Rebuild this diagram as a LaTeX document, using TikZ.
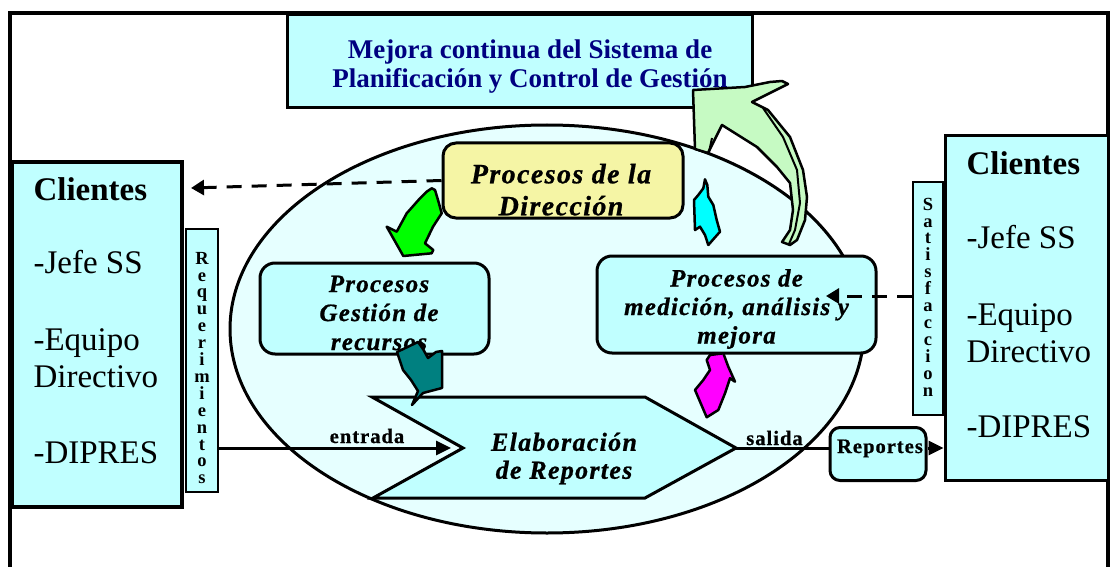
\documentclass[tikz,border=0pt]{standalone}
\usepackage{fontspec}
\setmainfont{Liberation Serif}
\newfontfamily\spacedfont[LetterSpace=5,FakeBold=0.8]{Liberation Serif}
\usetikzlibrary{arrows.meta}
\definecolor{boxcyan}{RGB}{192,255,255}
\definecolor{ellcyan}{RGB}{230,255,255}
\definecolor{dirYellow}{RGB}{245,245,165}
\definecolor{titleBlue}{RGB}{0,0,128}
\definecolor{arrGreen}{RGB}{0,255,0}
\definecolor{arrTeal}{RGB}{0,128,128}
\definecolor{arrCyan}{RGB}{0,255,255}
\definecolor{arrMagenta}{RGB}{255,0,255}
\definecolor{arrLight}{RGB}{198,250,195}
\tikzset{
  box/.style={draw, line width=3pt, fill=boxcyan, inner sep=0pt},
  rbox/.style={box, rounded corners=13pt},
  stripbox/.style={box, line width=2.5pt},
  proctext/.style={align=center, font=\spacedfont\bfseries\itshape},
  clitext/.style={anchor=base west, font=\fontsize{33}{36}\selectfont},
  lettertext/.style={align=center, inner sep=0pt, font=\bfseries\fontsize{18.5}{16.9}\selectfont},
  smalltext/.style={anchor=base, inner sep=0pt, font=\spacedfont\bfseries\fontsize{20.5}{22}\selectfont},
  dasharrow/.style={line width=3pt, dash pattern=on 15pt off 10pt,
    -{Triangle[length=13pt,width=15pt]}},
  flowarrow/.style={line width=3pt, -{Triangle[length=15pt,width=14pt]}},
  blockarrow/.style={draw, line width=2.5pt, line join=round}
}
\begin{document}
\begin{tikzpicture}[x=1pt,y=-1pt]
  \useasboundingbox (0,0) rectangle (1111,567);
  % marco
  \draw[line width=4pt] (10,567)--(10,13)--(1108,13)--(1108,567);
  % titulo
  \node[box, minimum width=465pt, minimum height=93pt] (titulo) at (519.5,61.5) {};
  \node[align=center, text=titleBlue, font=\bfseries\fontsize{27}{29}\selectfont]
    (titext) at (530,66.3) {Mejora continua del Sistema de\\Planificación y Control de Gestión};
  % ovalo de procesos
  \draw[line width=3pt, fill=ellcyan] (547,329) ellipse [x radius=317, y radius=204];

  % clientes izquierda
  \node[box, line width=4pt, minimum width=170pt, minimum height=345pt] (cliL) at (97,334.5) {};
  \node[clitext] (cliL1) at (30,200) {\bfseries Clientes};
  \node[clitext] (cliL2) at (30,273) {-Jefe SS};
  \node[clitext] (cliL3) at (30,350) {-Equipo};
  \node[clitext] (cliL4) at (30,387) {Directivo};
  \node[clitext] (cliL5) at (30,463) {-DIPRES};
  \node[stripbox, minimum width=32pt, minimum height=263pt] (req) at (202,360.5) {};
  \node[lettertext] (reqtext) at (202,368) {R\\e\\q\\u\\e\\r\\i\\m\\i\\e\\n\\t\\o\\s};

  % clientes derecha
  \node[box, minimum width=163pt, minimum height=344pt] (cliR) at (1026.5,308) {};
  \node[clitext] (cliR1) at (963,175) {\bfseries Clientes};
  \node[clitext] (cliR2) at (963,248) {-Jefe SS};
  \node[clitext] (cliR3) at (963,325) {-Equipo};
  \node[clitext] (cliR4) at (963,362) {Directivo};
  \node[clitext] (cliR5) at (963,437) {-DIPRES};
  \node[stripbox, minimum width=30pt, minimum height=233pt] (sat) at (928,298.5) {};
  \node[lettertext] (sattext) at (928,297) {S\\a\\t\\i\\s\\f\\a\\c\\c\\i\\o\\n};

  % procesos
  \node[rbox, fill=dirYellow, minimum width=240pt, minimum height=75pt] (dir) at (563,180.5) {};
  \node[proctext, font=\spacedfont\bfseries\itshape\fontsize{28}{32}\selectfont]
    (dirtext) at (561,189.7) {Procesos de la\\Dirección};
  \node[rbox, rounded corners=15pt, minimum width=229pt, minimum height=91pt] (gest) at (374.5,308.5) {};
  \node[proctext, font=\spacedfont\bfseries\itshape\fontsize{25}{29}\selectfont]
    (gesttext) at (379,313) {Procesos\\Gestión de\\recursos};
  \node[rbox, rounded corners=15pt, minimum width=279pt, minimum height=97pt] (med) at (736.5,304.5) {};
  \node[proctext, font=\spacedfont\bfseries\itshape\fontsize{25}{28.5}\selectfont]
    (medtext) at (736.5,309) {Procesos de\\medición, análisis y\\mejora};

  % elaboracion de reportes
  \coordinate (notch) at (463,448);
  \coordinate (tip) at (736,448);
  \draw[line width=3pt, fill=boxcyan] (372,397) -- (645,397) -- (tip)
    -- (645,498) -- (373,498) -- (notch) -- cycle;
  \node[proctext, font=\spacedfont\bfseries\itshape\fontsize{26}{28}\selectfont]
    (elab) at (564,458.5) {Elaboración\\de Reportes};
  \node[rbox, rounded corners=10pt, minimum width=96pt, minimum height=53pt] (rep) at (878,454) {};
  \node[smalltext] (reptext) at (880,453) {Reportes};

  % flechas de bloque
  \draw[blockarrow, fill=arrGreen] (431.7,188.3) -- (435,190) -- (438,200) -- (441.7,213.3)
    -- (433,226.7) -- (425,243.3) -- (433.3,250) -- (431.7,253.3) -- (403.3,256)
    -- (386.7,226.7) -- (396.7,231.7) -- (406.7,213.3) -- (420,198.3) -- (426.7,191.7) -- cycle;
  \draw[blockarrow, fill=arrTeal] (397,352) -- (418,342) -- (423,349) -- (428,358) -- (436,352)
    -- (442,351) -- (442,388) -- (423,393) -- (412,405) -- (418,391) -- (411,380)
    -- (403,370) -- cycle;
  \draw[blockarrow, fill=arrCyan] (705,179.3) -- (707.3,185) -- (708.3,196.7) -- (713.3,205)
    -- (716.7,220) -- (720,231.7) -- (708.3,245) -- (705,235) -- (700,226.7) -- (695,230)
    -- (694,200) -- (698.3,195) -- (703.3,188.3) -- cycle;
  \draw[blockarrow, fill=arrMagenta] (710,355) -- (723.3,353.3) -- (728.3,366.7) -- (735,381.7)
    -- (730,378.3) -- (725,393.3) -- (718.3,410) -- (706.7,417.3) -- (695,390) -- (703.3,380)
    -- (710,370) -- (706.7,360) -- cycle;
  % flecha de mejora continua
  \draw[blockarrow, fill=arrLight] (693,90) -- (745,87) -- (770,82) -- (782,81) -- (788,84)
    -- (752,102) -- (768,110) -- (790,137) -- (803,170) -- (807,197) -- (805,220)
    -- (797,240) -- (790,245) -- (782,242) -- (790,230) -- (793,210) -- (790,183)
    -- (777,167) -- (757,147) -- (722,125) -- (708,153) -- (695,149) -- cycle;
  \draw[line width=2pt] (763,108) -- (783,137) -- (797,170) -- (800,203) -- (795,230) -- (789,244);
  \draw[line width=2pt] (712,138) -- (709,152);

  % conectores
  \coordinate (tipL) at (191,188);
  \coordinate (tipR) at (826,296);
  \draw[dasharrow] (dir.west) -- (tipL);
  \draw[dasharrow] (sat.west |- tipR) -- (tipR);
  \draw[flowarrow, shorten >=12pt] (req.east |- notch) -- (notch);
  \draw[line width=3pt] (tip) -- (tip -| rep.west);
  \draw[flowarrow] (rep.east |- tip) -- (tip -| cliR.west);
  \node[smalltext] (entrada) at (367,443) {entrada};
  \node[smalltext] (salida) at (774.5,445) {salida};
\end{tikzpicture}
\end{document}
